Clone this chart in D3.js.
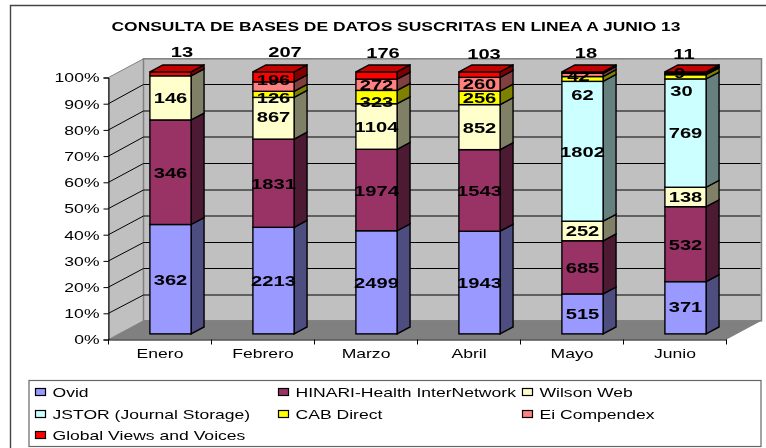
<!DOCTYPE html>
<html><head><meta charset="utf-8">
<script src="https://cdn.jsdelivr.net/npm/d3@7/dist/d3.min.js"></script>
<style>html,body{margin:0;padding:0;background:#fff}svg{display:block;filter:blur(.35px)}text{font-family:"Liberation Sans",Arial,sans-serif;fill:#000}</style>
</head><body><svg id="c" width="766" height="448"></svg>
<script>
const titleText = "CONSULTA DE BASES DE DATOS SUSCRITAS EN LINEA A JUNIO 13";
const months = ["Enero","Febrero","Marzo","Abril","Mayo","Junio"];
const seriesNames = ["Ovid","HINARI-Health InterNetwork","Wilson Web","JSTOR (Journal Storage)","CAB Direct","Ei Compendex","Global Views and Voices"];
const ovid =   [362,2213,2499,1943,515,371];
const hinari = [346,1831,1974,1543,685,532];
const wilson = [146,867,1104,852,252,138];
const jstor =  [0,0,0,0,1802,769];
const cab =    [0,126,323,256,62,30];
const ei =     [0,196,272,260,42,9];
const global = [13,207,176,103,18,11];
const seriesValues = [ovid,hinari,wilson,jstor,cab,ei,global];
const fills = ["#9999FF","#993366","#FFFFCC","#CCFFFF","#FFFF00","#FF8080","#FF0000"];
const percentTicks = [0,.1,.2,.3,.4,.5,.6,.7,.8,.9,1];
// gridlines that the reference's resampling left soft (two grey rows) rather than crisp
const softGrid = [.1,.4,.5,.7,.8];

// [series, month, dx, dy] hand-moved data labels, as in the reference
const labelNudges = [
 [6,0,11.5,-22],[6,1,11.5,-25],[6,2,6.5,-23],[6,3,4.5,-21],[6,4,3.5,-20],[6,5,-1.5,-19],
 [5,1,0,-7],[4,1,0,3],[2,1,0,-2],[4,2,0,4],[5,3,0,-1],
 [5,4,-4,1],[4,4,0,16],[5,5,-6,-2],[4,5,-4,14],[3,5,0,-1],[0,5,0,-1]
];

const DX=35,DY=18.7,STRETCH=1.3;
const svg=d3.select("#c");
const x=d3.scaleBand().domain(months).range([108.5,726.5]).paddingInner(.6).paddingOuter(.3);
const y=d3.scaleLinear().domain([0,1]).range([339.5,77.5]);
const step=x.step();
const rows=months.map((m,i)=>{const r={month:m};seriesNames.forEach((s,k)=>r[s]=seriesValues[k][i]);return r;});
const stacked=d3.stack().keys(seriesNames).offset(d3.stackOffsetExpand)(rows);
const shade=(c,f)=>{const q=d3.rgb(c);return d3.rgb(q.r*f,q.g*f,q.b*f).formatHex();};
const widen=sel=>sel.each(function(){const L=this.getComputedTextLength();d3.select(this).attr("textLength",L*STRETCH).attr("lengthAdjust","spacingAndGlyphs");});

// frame
svg.append("path").attr("d","M766,5.5H10.5V448").attr("fill","none").attr("stroke","#444").attr("stroke-width",1.4);

// title
svg.append("text").attr("x",111.5).attr("y",30.5).attr("font-size",13).attr("font-weight","bold")
  .attr("textLength",569).attr("lengthAdjust","spacingAndGlyphs").text(titleText);

const [x0,x1]=x.range(), y0=y(0), y1=y(1);
// walls
svg.append("path").attr("d",`M${x0},${y0}L${x0+DX},${y0-DY}V${y1-DY}L${x0},${y1}Z`).attr("fill","#C0C0C0").attr("stroke","#808080").attr("stroke-width",1);
svg.append("rect").attr("x",x0+DX).attr("y",y1-DY).attr("width",x1-x0).attr("height",y0-y1).attr("fill","#C0C0C0").attr("stroke","#808080").attr("stroke-width",1.5);
svg.append("path").attr("d",`M${x0},${y0}L${x0+DX},${y0-DY}H${x1+DX}L${x1},${y0}Z`).attr("fill","#808080");
// gridlines
percentTicks.slice(1,-1).forEach(t=>{
  const p=y(t), soft=softGrid.includes(t);
  const b=soft?Math.round(p-DY):Math.floor(p-DY)+.5;
  svg.append("path").attr("d",`M${x0},${p}L${x0+DX},${b}H${x1+DX-1}`).attr("fill","none").attr("stroke","#000").attr("stroke-width",1);
});

// axes
const ax=svg.append("g").attr("transform",`translate(${x0},0)`).call(d3.axisLeft(y).tickValues(percentTicks).tickFormat(d3.format(".0%")).tickSize(5).tickPadding(4));
ax.selectAll("path,line").attr("stroke","#000");
ax.selectAll("text").attr("font-size",13.5).attr("font-family",null).call(widen);
const bx=svg.append("g").attr("transform",`translate(0,${y0})`).call(d3.axisBottom(x).tickSize(0).tickPadding(9));
bx.selectAll("path").attr("stroke","#000");
bx.selectAll(".tick").attr("transform",d=>`translate(${x0+months.indexOf(d)*step+step/2},0)`);
bx.selectAll(".tick text").attr("font-size",13.5).attr("font-family",null).call(widen);
d3.range(months.length+1).forEach(i=>{
  svg.append("line").attr("x1",x0+i*step).attr("x2",x0+i*step).attr("y1",y0).attr("y2",y0+5).attr("stroke","#000");
});

// bars
const fd=.3, bd=.67;
const fx=fd*DX, fy=fd*DY, sx=(bd-fd)*DX, sy=(bd-fd)*DY;
const bw=x.bandwidth(), SW=1.4;
stacked.forEach((s,k)=>{
  const g=svg.append("g");
  s.forEach((d,i)=>{
    if(d[1]-d[0]<=0) return;
    const L=x(months[i])+fx, R=L+bw, B=y(d[0])-fy, T=y(d[1])-fy;
    g.append("path").attr("d",`M${R},${B}l${sx},${-sy}V${T-sy}L${R},${T}Z`).attr("fill",shade(fills[k],.5)).attr("stroke","#000").attr("stroke-width",SW);
    g.append("rect").attr("x",L).attr("y",T).attr("width",bw).attr("height",B-T).attr("fill",fills[k]).attr("stroke","#000").attr("stroke-width",SW);
    if(k===6) g.append("path").attr("d",`M${L},${T}l${sx},${-sy}H${R+sx}L${R},${T}Z`).attr("fill",shade(fills[k],.78)).attr("stroke","#000").attr("stroke-width",SW);
  });
});

// labels
stacked.forEach((s,k)=>{
  s.forEach((d,i)=>{
    const v=seriesValues[k][i];
    if(!v) return;
    const n=labelNudges.find(a=>a[0]===k&&a[1]===i)||[k,i,0,0];
    svg.append("text").attr("x",x(months[i])+fx+bw/2+n[2]).attr("y",(y(d[0])+y(d[1]))/2-fy+n[3])
      .attr("text-anchor","middle").attr("dominant-baseline","central")
      .attr("font-size",15.5).attr("font-weight","bold").text(v).call(widen);
  });
});

// legend
svg.append("rect").attr("x",29).attr("y",380.5).attr("width",732).attr("height",66).attr("fill","#fff").attr("stroke","#666").attr("stroke-width",1.2);
const legCol=d3.scaleOrdinal().domain([0,1,2]).range([35,278,522]);
const legRow=d3.scaleOrdinal().domain([0,1,2]).range([392,414,435]);
seriesNames.forEach((n,k)=>{
  const c=legCol(k%3), r=legRow(Math.floor(k/3));
  svg.append("rect").attr("x",c+.5).attr("y",r-3.5).attr("width",10).attr("height",7).attr("fill",fills[k]).attr("stroke","#000").attr("stroke-width",1.2);
  svg.append("text").attr("x",c+17.5).attr("y",r).attr("dominant-baseline","central").attr("font-size",13.5).text(n).call(widen);
});
</script></body></html>
